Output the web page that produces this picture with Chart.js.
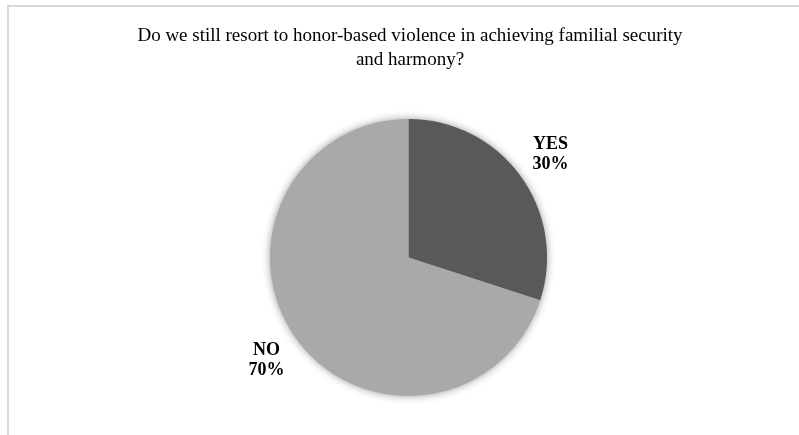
<!DOCTYPE html>
<html>
<head>
<meta charset="utf-8">
<script src="https://cdn.jsdelivr.net/npm/chart.js@4/dist/chart.umd.min.js"></script>
<style>
html,body{margin:0;padding:0;background:#fff;}
#wrap{position:relative;width:799px;height:435px;}
canvas{display:block;}
</style>
</head>
<body>
<div id="wrap"><canvas id="c" width="799" height="435"></canvas></div>
<script>
const titleLines = ["Do we still resort to honor-based violence in achieving familial security", "and harmony?"];
const categories = ["YES", "NO"];
const values = [30, 70];
const colors = ["#595959", "#a9a9a9"];

const deco = {
  id: 'deco',
  beforeDraw(chart) {
    const ctx = chart.ctx;
    ctx.save();
    ctx.fillStyle = '#fff';
    ctx.fillRect(0, 0, chart.width, chart.height);
    ctx.strokeStyle = '#d9d9d9';
    ctx.lineWidth = 2;
    ctx.beginPath();
    ctx.moveTo(8, chart.height);
    ctx.lineTo(8, 6);
    ctx.lineTo(chart.width, 6);
    ctx.stroke();
    ctx.fillStyle = '#000';
    ctx.font = '19px "Liberation Serif", "Times New Roman", serif';
    ctx.textAlign = 'center';
    ctx.textBaseline = 'middle';
    ctx.fillText(titleLines[0], 410, 36);
    ctx.fillText(titleLines[1], 410, 60);
    ctx.restore();
  },
  beforeDatasetsDraw(chart) {
    const arc = chart.getDatasetMeta(0).data[0];
    if (!arc) return;
    const ctx = chart.ctx;
    ctx.save();
    ctx.shadowColor = 'rgba(0,0,0,0.45)';
    ctx.shadowBlur = 9;
    ctx.fillStyle = '#a9a9a9';
    ctx.beginPath();
    ctx.arc(arc.x, arc.y, arc.outerRadius - 0.5, 0, Math.PI * 2);
    ctx.fill();
    ctx.restore();
  },
  afterDatasetsDraw(chart) {
    const ctx = chart.ctx;
    const meta = chart.getDatasetMeta(0);
    ctx.save();
    ctx.fillStyle = '#000';
    ctx.font = 'bold 18px "Liberation Serif", "Times New Roman", serif';
    ctx.textAlign = 'center';
    ctx.textBaseline = 'middle';
    const total = values.reduce((a, b) => a + b, 0);
    meta.data.forEach((a, i) => {
      const mid = (a.startAngle + a.endAngle) / 2;
      const r = a.outerRadius + 37;
      const x = a.x + Math.cos(mid) * r;
      const y = a.y + Math.sin(mid) * r;
      ctx.fillText(categories[i], x, y - 10);
      ctx.fillText(Math.round(values[i] / total * 100) + '%', x, y + 10);
    });
    ctx.restore();
  }
};

new Chart(document.getElementById('c'), {
  type: 'pie',
  data: {
    labels: categories,
    datasets: [{
      data: values,
      backgroundColor: colors,
      borderWidth: 0,
      hoverOffset: 0
    }]
  },
  options: {
    responsive: false,
    animation: false,
    layout: { padding: { top: 119, bottom: 39, left: 200, right: 182 } },
    plugins: {
      legend: { display: false },
      title: { display: false },
      tooltip: { enabled: false }
    }
  },
  plugins: [deco]
});
</script>
</body>
</html>
